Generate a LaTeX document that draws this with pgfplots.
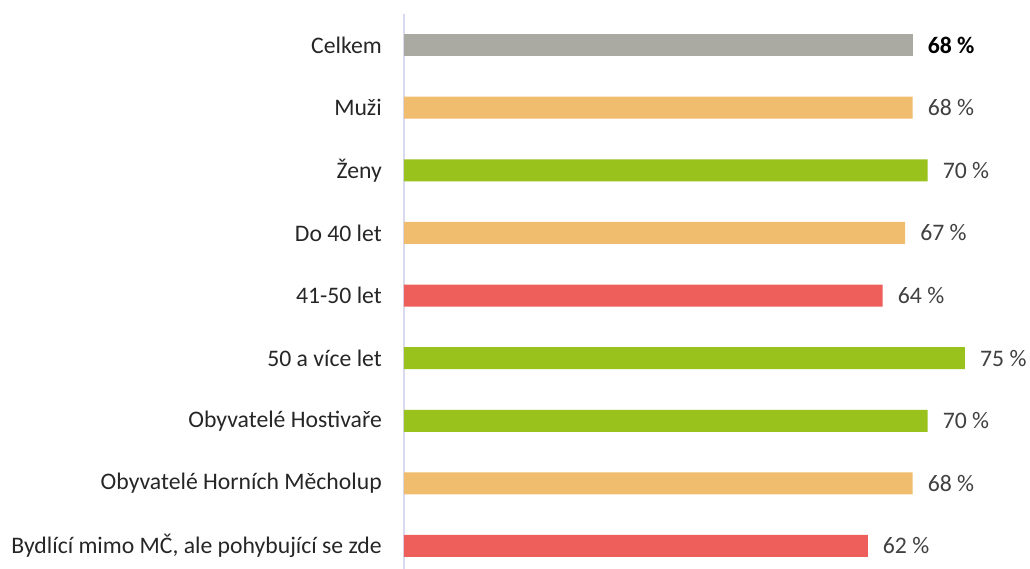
\documentclass[border=0pt]{standalone}
\usepackage{pgfplots}
\pgfplotsset{compat=1.18}
\usepackage{fontspec}
\setmainfont{Carlito}
\definecolor{cgrey}{HTML}{AAAAA2}
\definecolor{corange}{HTML}{F0BC6E}
\definecolor{cgreen}{HTML}{9AC21C}
\definecolor{cred}{HTML}{EE5F5B}
\definecolor{axisc}{HTML}{D9D9F0}
\definecolor{labelc}{HTML}{262626}
\definecolor{valc}{HTML}{404040}
\newcommand{\lblfont}{\fontsize{23.7}{28}\selectfont}
\begin{document}
\begin{tikzpicture}[x=1pt,y=1pt]
\path[use as bounding box] (-404,9.3) rectangle (626,577.3);
\begin{axis}[
  at={(0,0)}, anchor=south west,
  scale only axis, width=598.4pt, height=563.6pt,
  xmin=0, xmax=80, ymin=-0.5, ymax=8.5, y dir=reverse,
  hide x axis, axis y line=left,
  axis line style={-, draw=axisc, line width=2pt},
  /pgf/number format/assume math mode=true,
  ytick={0,1,2,3,4,5,6,7,8},
  yticklabels={Celkem,Muži,Ženy,Do 40 let,41-50 let,50 a více let,Obyvatelé Hostivaře,Obyvatelé Horních Měcholup,{Bydlící mimo MČ, ale pohybující se zde}},
  major tick length=0pt,
  yticklabel style={inner sep=0pt, xshift=-22pt, font=\lblfont, text=labelc},
  xbar, bar width=22pt, bar shift=0pt,
  point meta=x,
  nodes near coords={\pgfmathprintnumber{\pgfplotspointmeta}~\%},
  nodes near coords style={anchor=west, inner sep=0pt, xshift=15pt, font=\lblfont, text=valc},
  clip=false,
]
\addplot[fill=cgrey, draw=none, nodes near coords style={font=\lblfont\bfseries, text=black}] coordinates {(68,0)};
\addplot[fill=corange, draw=none] coordinates {(68,1) (67,3) (68,7)};
\addplot[fill=cgreen, draw=none] coordinates {(70,2) (75,5) (70,6)};
\addplot[fill=cred, draw=none] coordinates {(64,4) (62,8)};
\end{axis}
\end{tikzpicture}
\end{document}
